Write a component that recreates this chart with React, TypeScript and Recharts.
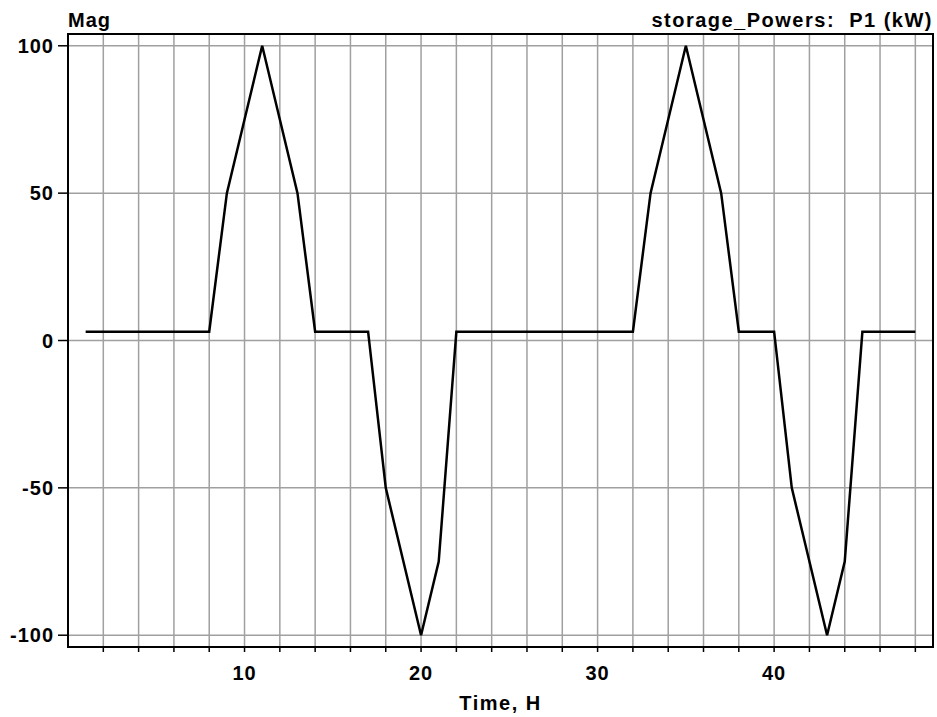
import React from 'react';
import {
  LineChart, Line, XAxis, YAxis, CartesianGrid, ReferenceArea,
} from 'recharts';

const HOURS = [
  1, 2, 3, 4, 5, 6, 7, 8, 9, 10, 11, 12, 13, 14, 15, 16,
  17, 18, 19, 20, 21, 22, 23, 24, 25, 26, 27, 28, 29, 30, 31, 32,
  33, 34, 35, 36, 37, 38, 39, 40, 41, 42, 43, 44, 45, 46, 47, 48,
];
const P1_KW = [
  3, 3, 3, 3, 3, 3, 3, 3, 50, 75, 100, 75, 50, 3, 3, 3,
  3, -50, -75, -100, -75, 3, 3, 3, 3, 3, 3, 3, 3, 3, 3, 3,
  50, 75, 100, 75, 50, 3, 3, 3, -50, -75, -100, -75, 3, 3, 3, 3,
];
const X_TICKS = [2, 4, 6, 8, 10, 12, 14, 16, 18, 20, 22, 24, 26, 28, 30, 32, 34, 36, 38, 40, 42, 44, 46, 48];
const X_LABELS = [10, 20, 30, 40];
const Y_TICKS = [-100, -50, 0, 50, 100];

const data = HOURS.map((h, i) => ({ hour: h, p1: P1_KW[i] }));

const FONT = '"Liberation Sans", Arial, sans-serif';
const tickStyle = { fill: '#000', fontSize: 20, fontWeight: 'bold', fontFamily: FONT, letterSpacing: 1 } as any;

const App: React.FC = () => {
  return (
    <div style={{ position: 'absolute', left: 0, top: 0, width: 937, height: 717, background: '#fff' }}>
      <div style={{
        position: 'absolute', left: 68, top: 10, fontFamily: FONT, fontWeight: 'bold',
        fontSize: 20, lineHeight: '20px', letterSpacing: 1, color: '#000',
      }}>Mag</div>
      <div style={{
        position: 'absolute', right: 4, top: 10, fontFamily: FONT, fontWeight: 'bold',
        fontSize: 20, lineHeight: '20px', letterSpacing: 1.5, color: '#000', whiteSpace: 'pre',
      }}>storage_Powers:  P1 (kW)</div>
      <LineChart width={937} height={717} data={data} margin={{ top: 34, right: 4, bottom: 0, left: 0 }}>
        <CartesianGrid stroke="#a0a0a0" strokeWidth={1.5} />
        <XAxis
          dataKey="hour"
          type="number"
          domain={[0, 49]}
          ticks={X_TICKS}
          tickFormatter={(v: number) => (X_LABELS.includes(v) ? String(v) : '')}
          height={70}
          tickSize={5}
          tickMargin={14}
          tick={tickStyle}
          stroke="#000"
          axisLine={{ stroke: '#000', strokeWidth: 2 }}
          tickLine={{ stroke: '#000', strokeWidth: 1.5 }}
          label={{ value: 'Time, H', position: 'insideBottom', offset: 7, style: { ...tickStyle, letterSpacing: 1.5 } }}
        />
        <YAxis
          type="number"
          domain={[-104, 104]}
          ticks={Y_TICKS}
          allowDataOverflow
          width={68}
          tickSize={10}
          tickMargin={4}
          tick={tickStyle}
          stroke="#000"
          axisLine={{ stroke: '#000', strokeWidth: 2 }}
          tickLine={{ stroke: '#000', strokeWidth: 1.5 }}
        />
        <ReferenceArea x1={0} x2={49} y1={-104} y2={104} fill="none" stroke="#000" strokeWidth={2} ifOverflow="visible" />
        <Line type="linear" dataKey="p1" stroke="#000" strokeWidth={2.5} dot={false} isAnimationActive={false} />
      </LineChart>
    </div>
  );
};

export default App;
